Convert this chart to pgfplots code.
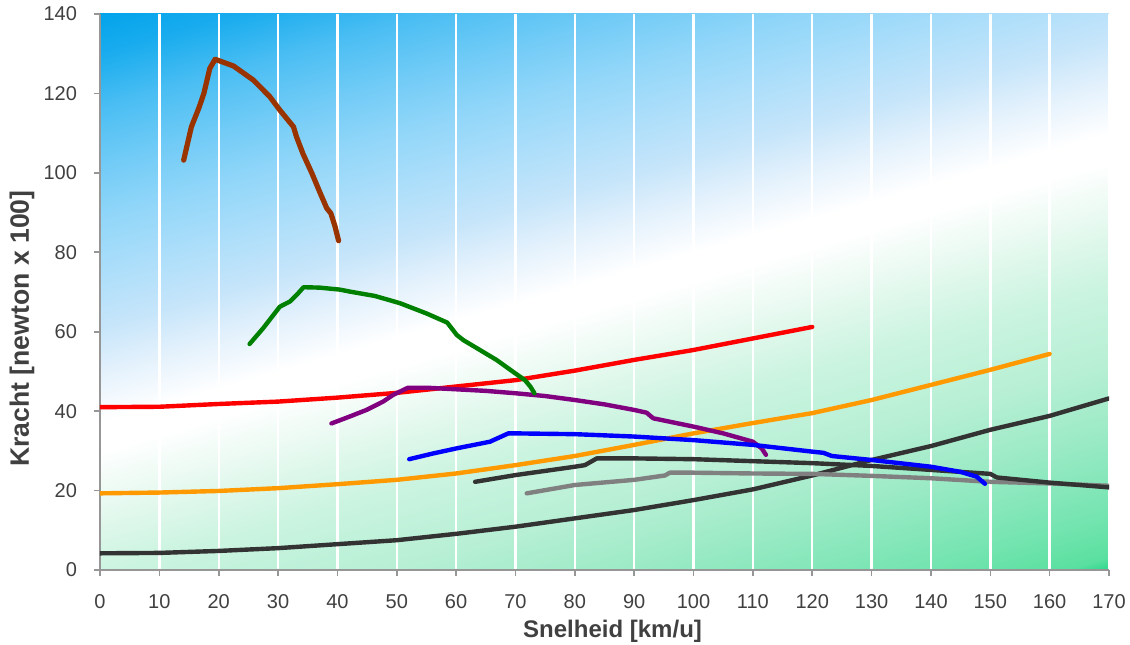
\documentclass[border=0pt]{standalone}
\usepackage{fontspec}
\setmainfont{Liberation Sans}
\usepackage{pgfplots}
\pgfplotsset{compat=1.18}

\definecolor{txt}{RGB}{64,64,64}
\definecolor{axgray}{RGB}{150,150,150}
\definecolor{cbrown}{RGB}{153,51,0}
\definecolor{cgreen}{RGB}{0,128,0}
\definecolor{cred}{RGB}{255,0,0}
\definecolor{corange}{RGB}{255,153,0}
\definecolor{cpurple}{RGB}{128,0,128}
\definecolor{cblue}{RGB}{0,0,255}
\definecolor{cdark}{RGB}{51,51,51}
\definecolor{cgray}{RGB}{128,128,128}

% background: blue top left, white band, green bottom right
\pgfdeclareverticalshading{plotbg}{100bp}{%
  color(0bp)=(rgb,255:red,20;green,210;blue,130);
  color(18.6bp)=(rgb,255:red,20;green,210;blue,130);
  color(20bp)=(rgb,255:red,90;green,224;blue,160);
  color(23bp)=(rgb,255:red,115;green,228;blue,175);
  color(26bp)=(rgb,255:red,135;green,231;blue,187);
  color(30bp)=(rgb,255:red,160;green,235;blue,200);
  color(34bp)=(rgb,255:red,182;green,239;blue,212);
  color(40bp)=(rgb,255:red,203;green,244;blue,224);
  color(44bp)=(rgb,255:red,226;green,248;blue,237);
  color(49bp)=(rgb,255:red,255;green,255;blue,255);
  color(51bp)=(rgb,255:red,255;green,255;blue,255);
  color(55bp)=(rgb,255:red,225;green,240;blue,252);
  color(58bp)=(rgb,255:red,198;green,229;blue,250);
  color(62bp)=(rgb,255:red,172;green,222;blue,250);
  color(66bp)=(rgb,255:red,145;green,214;blue,249);
  color(70bp)=(rgb,255:red,112;green,203;blue,246);
  color(74bp)=(rgb,255:red,75;green,190;blue,243);
  color(78bp)=(rgb,255:red,25;green,172;blue,238);
  color(81.4bp)=(rgb,255:red,0;green,162;blue,235);
  color(100bp)=(rgb,255:red,0;green,162;blue,235)}

\begin{document}
\begin{tikzpicture}
\begin{axis}[
    scale only axis,
    width=504.5pt, height=278pt,
    xmin=0, xmax=170, ymin=0, ymax=140,
    xtick distance=10, ytick distance=20,
    axis x line*=bottom, axis y line*=left,
    axis line style={axgray, line width=0.8pt},
    tick style={axgray, line width=0.8pt},
    tick align=outside, major tick length=3pt,
    xmajorgrids,
    major grid style={white, line width=1.2pt},
    axis background/.style={shade, shading=plotbg, shading angle=16},
    /pgf/number format/assume math mode=true,
    ticklabel style={font=\fontsize{10}{12}\selectfont, text=txt},
    xticklabel style={yshift=-5.8pt},
    yticklabel style={xshift=-5pt},
    xlabel={Snelheid [km/u]},
    ylabel={Kracht [newton x 100]},
    every axis x label/.style={at={(axis description cs:0.508,-0.1223)}, anchor=base,
        font=\bfseries\fontsize{12}{14}\selectfont, text=txt},
    every axis y label/.style={at={(axis description cs:-0.0773,0.434)}, anchor=center, rotate=90,
        font=\bfseries\fontsize{13.3}{15}\selectfont, text=txt},
    every axis plot/.append style={line width=2.2pt, line join=round, line cap=round},
]
% bottom black
\addplot[cdark] coordinates {(0,4.2) (10,4.3) (20,4.8) (30,5.5) (40,6.5) (50,7.5) (60,9.1) (70,10.9) (80,13.0) (90,15.1) (100,17.6) (110,20.3) (120,23.8) (130,27.7) (140,31.2) (150,35.3) (160,38.8) (170,43.2)};
% orange
\addplot[corange] coordinates {(0,19.3) (10,19.5) (20,19.9) (30,20.6) (40,21.6) (50,22.7) (60,24.3) (70,26.4) (80,28.7) (90,31.5) (100,34.4) (110,37.0) (120,39.5) (130,42.8) (140,46.6) (150,50.4) (160,54.4)};
% red
\addplot[cred] coordinates {(0,41.0) (10,41.1) (20,41.8) (30,42.4) (40,43.4) (50,44.6) (60,46.2) (70,47.8) (80,50.2) (90,52.9) (100,55.4) (110,58.3) (120,61.2)};
% gray
\addplot[cgray] coordinates {(71.9,19.3) (80,21.4) (90,22.7) (95.2,23.8) (96.0,24.5) (100,24.5) (110,24.3) (120,24.2) (130,23.7) (140,23.1) (150,22.2) (160,21.8) (170,21.2)};
% dark middle
\addplot[cdark] coordinates {(63.2,22.2) (70,23.9) (80,26.0) (81.7,26.4) (83.7,28.1) (90,28.1) (100,27.9) (110,27.4) (120,26.9) (130,26.2) (140,25.2) (150,24.2) (151.1,23.3) (160,22.0) (170,20.8)};
% purple
\addplot[cpurple] coordinates {(39.0,36.9) (42,38.6) (44.9,40.3) (46.5,41.5) (47.7,42.4) (49.4,44.1) (51.9,45.9) (55,45.9) (60,45.5) (65,45.1) (70,44.5) (75,43.8) (80,42.8) (85,41.7) (90,40.3) (92.1,39.6) (93.2,38.2) (100,36.1) (105,34.4) (110,32.3) (111.5,30.6) (112.2,29.0)};
% blue
\addplot[cblue] coordinates {(52.1,27.9) (56,29.3) (60,30.6) (65.7,32.3) (68.8,34.4) (70,34.4) (80,34.2) (90,33.6) (100,32.7) (110,31.5) (120,29.8) (121.9,29.5) (123.3,28.7) (130,27.7) (140,26.0) (145,24.7) (147.7,23.5) (149.1,21.7)};
% green
\addplot[cgreen] coordinates {(25.2,56.9) (27.5,60.9) (30.3,66.3) (32.0,67.6) (33.4,69.7) (34.3,71.2) (37,71.1) (40.4,70.6) (42.1,70.1) (46.3,69.0) (50.5,67.2) (55,64.6) (58.5,62.3) (60.1,59.2) (61.2,57.9) (64.0,55.4) (66.8,52.9) (69.6,49.9) (71.6,47.8) (72.5,46.2) (73.2,44.5)};
% brown
\addplot[cbrown, line width=2.6pt] coordinates {(14.1,103.2) (15.4,111.6) (16.7,116.5) (17.5,120.0) (18.5,126.3) (19.4,128.6) (22.5,126.9) (25.8,123.4) (28.6,119.2) (30.3,115.8) (32.6,111.6) (33.1,109.1) (34.2,104.8) (35.7,99.9) (37.1,94.9) (38.2,91.1) (38.9,89.8) (39.6,86.5) (40.2,82.9)};
\end{axis}
\pgfresetboundingbox
\path ([shift={(-50pt,-37.5pt)}]current axis.south west) rectangle ([shift={(10.5pt,7pt)}]current axis.north east);
\end{tikzpicture}
\end{document}
